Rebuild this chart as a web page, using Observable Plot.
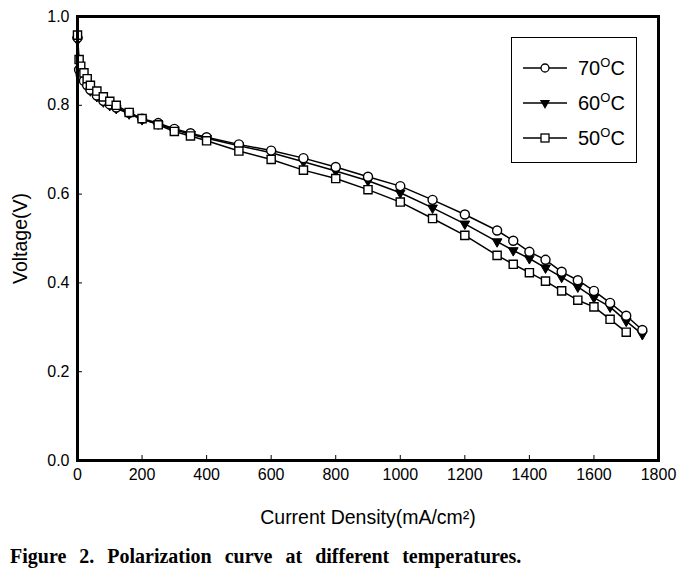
<!DOCTYPE html>
<html>
<head>
<meta charset="utf-8">
<script src="https://cdn.jsdelivr.net/npm/d3@7"></script>
<script src="https://cdn.jsdelivr.net/npm/@observablehq/plot@0.6"></script>
<style>
  html, body { margin: 0; padding: 0; background: #fff; }
  #wrap { position: relative; width: 696px; height: 576px; font-family: "Liberation Sans", Arial, sans-serif; }
  #legend { position: absolute; left: 511px; top: 37px; width: 124px; height: 124px; border: 1.5px solid #000; background: #fff; }
  .row { position: absolute; left: 10px; height: 24px; display: flex; align-items: center; }
  .row span { font-size: 20px; margin-left: 10px; color: #000; }
  .row sup { font-size: 13px; vertical-align: 8px; line-height: 0; }
  #caption { position: absolute; left: 10px; top: 545px; font-family: "Liberation Serif", "Times New Roman", serif; font-weight: bold; font-size: 20px; word-spacing: 8px; color: #000; white-space: nowrap; }
</style>
</head>
<body>
<div id="wrap">
  <div id="chart"></div>
  <div id="legend"></div>
  <div id="caption">Figure 2. Polarization curve at different temperatures.</div>
</div>
<script>
// Data
const current = [0,5,10,20,30,40,60,80,100,120,160,200,250,300,350,400,500,600,700,800,900,1000,1100,1200,1300,1350,1400,1450,1500,1550,1600,1650,1700,1750];
const v70 = [0.952,0.880,0.868,0.855,0.845,0.835,0.822,0.810,0.802,0.795,0.783,0.770,0.760,0.747,0.737,0.728,0.712,0.698,0.681,0.661,0.639,0.618,0.587,0.554,0.518,0.495,0.470,0.452,0.425,0.406,0.382,0.355,0.326,0.294];
const v60 = [0.947,0.877,0.865,0.852,0.842,0.833,0.820,0.808,0.800,0.793,0.781,0.768,0.758,0.745,0.735,0.726,0.709,0.693,0.673,0.652,0.630,0.603,0.569,0.533,0.493,0.473,0.455,0.434,0.413,0.391,0.367,0.346,0.314,0.284];
const v50 = [0.958,0.903,0.888,0.873,0.860,0.845,0.832,0.819,0.809,0.800,0.784,0.770,0.756,0.741,0.731,0.720,0.697,0.678,0.654,0.635,0.610,0.582,0.545,0.507,0.462,0.442,0.423,0.404,0.382,0.361,0.346,0.318,0.289];
const xTicks = [0,200,400,600,800,1000,1200,1400,1600,1800];
const yTicks = [0.0,0.2,0.4,0.6,0.8,1.0];
const seriesNames = ["70", "60", "50"];
const xTitle = "Current Density(mA/cm²)";
const yTitle = "Voltage(V)";

const toRows = (vals) => vals.map((v, i) => ({x: current[i], y: v}));
const d70 = toRows(v70), d60 = toRows(v60), d50 = toRows(v50);

const triangleDown = {
  draw(context, size) {
    const s = Math.sqrt(size / (Math.sqrt(3) / 4));
    const h = s * Math.sqrt(3) / 2;
    context.moveTo(-s / 2, -h / 3);
    context.lineTo(s / 2, -h / 3);
    context.lineTo(0, 2 * h / 3);
    context.closePath();
  }
};

const chart = Plot.plot({
  width: 696,
  height: 535,
  marginLeft: 77,
  marginRight: 38,
  marginTop: 16,
  marginBottom: 75,
  style: {fontFamily: "'Liberation Sans', Arial, sans-serif", fontSize: "16px", color: "#000", background: "#fff"},
  x: {domain: [0, 1800]},
  y: {domain: [0, 1]},
  marks: [
    Plot.axisX({ticks: xTicks, tickSize: -5, tickPadding: 13, tickFormat: d3.format("d"), fontSize: 16,
      label: xTitle, labelAnchor: "center", labelOffset: 63, labelArrow: "none"}),
    Plot.axisY({ticks: yTicks, tickSize: -5, tickPadding: 13, tickFormat: d3.format(".1f"), fontSize: 16,
      label: yTitle, labelAnchor: "center", labelOffset: 64, labelArrow: "none"}),
    Plot.line(d60, {x: "x", y: "y", stroke: "black", strokeWidth: 1.5}),
    Plot.dot(d60, {x: "x", y: "y", symbol: triangleDown, r: 3.6, fill: "black", stroke: "black", strokeWidth: 1}),
    Plot.line(d70, {x: "x", y: "y", stroke: "black", strokeWidth: 1.5}),
    Plot.dot(d70, {x: "x", y: "y", symbol: "circle", r: 4.5, fill: "white", stroke: "black", strokeWidth: 1.4}),
    Plot.line(d50, {x: "x", y: "y", stroke: "black", strokeWidth: 1.5}),
    Plot.dot(d50, {x: "x", y: "y", symbol: "square", r: 4.6, fill: "white", stroke: "black", strokeWidth: 1.4}),
    Plot.frame({stroke: "black", strokeWidth: 3})
  ]
});
document.getElementById("chart").appendChild(chart);
// enlarge axis titles
d3.select(chart).selectAll("text").filter(function() {
  const t = this.textContent;
  return t === xTitle || t === yTitle;
}).attr("font-size", 19.5).style("font-size", "19.5px");

// Legend
const legend = d3.select("#legend");
const legendSymbols = ["circle", "triangleDown", "square"];
seriesNames.forEach((name, i) => {
  const row = legend.append("div").attr("class", "row").style("top", (18 + i * 35) + "px");
  const s = row.append("svg").attr("width", 46).attr("height", 20);
  s.append("line").attr("x1", 1).attr("x2", 45).attr("y1", 10).attr("y2", 10).attr("stroke", "black").attr("stroke-width", 1.5);
  const sym = legendSymbols[i];
  if (sym === "circle") s.append("circle").attr("cx", 23).attr("cy", 10).attr("r", 4).attr("fill", "white").attr("stroke", "black").attr("stroke-width", 1.3);
  else if (sym === "square") s.append("rect").attr("x", 19).attr("y", 6).attr("width", 8).attr("height", 8).attr("fill", "white").attr("stroke", "black").attr("stroke-width", 1.3);
  else s.append("path").attr("d", d3.symbol(triangleDown, 45)()).attr("transform", "translate(23,10)").attr("fill", "black");
  row.append("span").html(name + "<sup>O</sup>C");
});
</script>
</body>
</html>
